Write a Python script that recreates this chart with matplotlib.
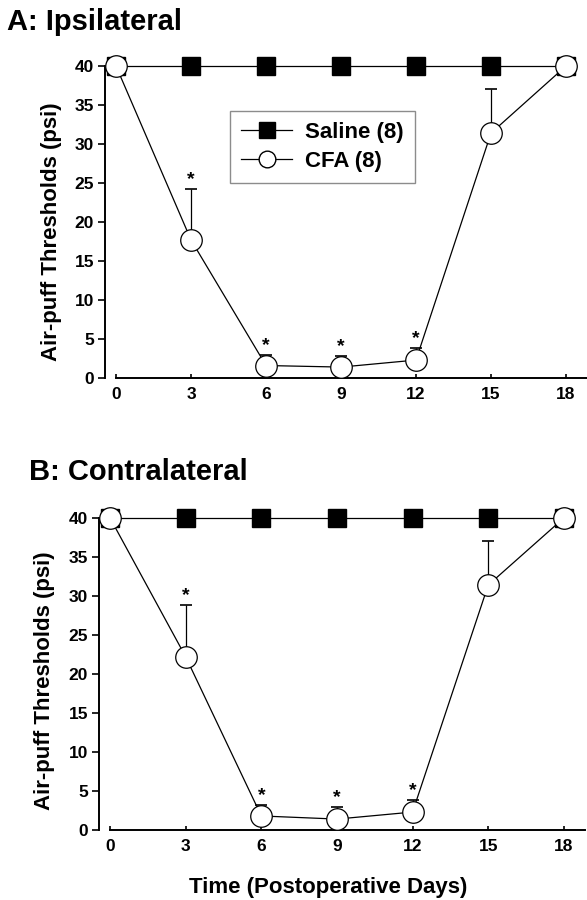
import matplotlib
matplotlib.use("Agg")
import matplotlib.pyplot as plt
from matplotlib.lines import Line2D

plt.rcParams['font.family'] = ['Liberation Sans', 'DejaVu Sans']
plt.rcParams['font.weight'] = 'bold'

days = [0, 3, 6, 9, 12, 15, 18]
saline = [40, 40, 40, 40, 40, 40, 40]

cfa_ipsi = [40, 17.7, 1.6, 1.4, 2.3, 31.4, 40]
cfa_ipsi_err = [0, 6.5, 1.3, 1.4, 1.5, 5.6, 0]

cfa_contra = [40, 22.2, 1.8, 1.4, 2.3, 31.4, 40]
cfa_contra_err = [0, 6.7, 1.4, 1.6, 1.5, 5.6, 0]

sig_days = [3, 6, 9, 12]

yticks = [0, 5, 10, 15, 20, 25, 30, 35, 40]
xticks = [0, 3, 6, 9, 12, 15, 18]

W, H = 587, 900
fig = plt.figure(figsize=(W / 100, H / 100), dpi=100)


def panel(rect, cfa, err, title, title_xy):
    ax = fig.add_axes(rect)
    ax.plot(days, saline, color='black', lw=0.9, marker='s', ms=13.5,
            mfc='black', mec='black', clip_on=False, zorder=3)
    ax.errorbar(days, cfa, yerr=[[0] * len(err), err], fmt='none',
                ecolor='black', elinewidth=0.9, capsize=4, capthick=1.2,
                clip_on=False, zorder=2)
    ax.plot(days, cfa, color='black', lw=0.9, marker='o', ms=15.5,
            mfc='white', mec='black', mew=0.9, clip_on=False, zorder=4)
    for d in sig_days:
        i = days.index(d)
        ax.annotate('*', (d, cfa[i] + err[i]), xytext=(0, 3.5),
                    textcoords='offset points', ha='center', va='baseline',
                    fontsize=14, fontweight='bold')
    ax.set_xlim(-0.44, 18.84)
    ax.set_ylim(0, 40)
    ax.set_xticks(xticks)
    ax.set_yticks(yticks)
    for s in ['top', 'right']:
        ax.spines[s].set_visible(False)
    ax.spines['left'].set_bounds(0, 40)
    ax.spines['bottom'].set_bounds(0, 18.84)
    for s in ['left', 'bottom']:
        ax.spines[s].set_linewidth(1.4)
    ax.tick_params(axis='x', direction='in', length=3, width=1.2, pad=6.5,
                   labelsize=12.5)
    ax.tick_params(axis='y', direction='out', length=5, width=1.2, pad=3,
                   labelsize=12.5)
    for lab in ax.get_xticklabels() + ax.get_yticklabels():
        lab.set_fontweight('bold')
    ax.set_ylabel('Air-puff Thresholds (psi)', fontsize=16, fontweight='bold')
    fig.text(title_xy[0] / W, 1 - title_xy[1] / H, title, fontsize=21,
             fontweight='bold', ha='left', va='baseline')
    return ax


axA = panel([105 / W, 1 - 378 / H, 482 / W, 312 / H], cfa_ipsi, cfa_ipsi_err,
            'A: Ipsilateral', (7, 30))
axA.yaxis.set_label_coords(-0.089, 0.47)

axB = panel([99 / W, 1 - 830 / H, 486 / W, 312 / H], cfa_contra, cfa_contra_err,
            'B: Contralateral', (29, 480))
axB.yaxis.set_label_coords(-0.091, 0.478)

fig.text(328 / W, 1 - 893 / H, 'Time (Postoperative Days)', fontsize=16,
         fontweight='bold', ha='center', va='baseline')

handles = [
    Line2D([], [], color='black', lw=0.9, marker='s', ms=12, mfc='black', mec='black'),
    Line2D([], [], color='black', lw=0.9, marker='o', ms=12, mfc='white', mec='black'),
]
leg = axA.legend(handles, ['Saline (8)', 'CFA (8)'], loc='upper left',
                 bbox_to_anchor=(0.259, 0.856), fontsize=16, frameon=True,
                 fancybox=False, handlelength=2.3, handletextpad=0.6,
                 borderpad=0.5, labelspacing=0.35, borderaxespad=0)
leg.get_frame().set_edgecolor('#707070')
leg.get_frame().set_linewidth(1.0)
for t in leg.get_texts():
    t.set_fontweight('bold')

fig.savefig('out.png', dpi=100)
